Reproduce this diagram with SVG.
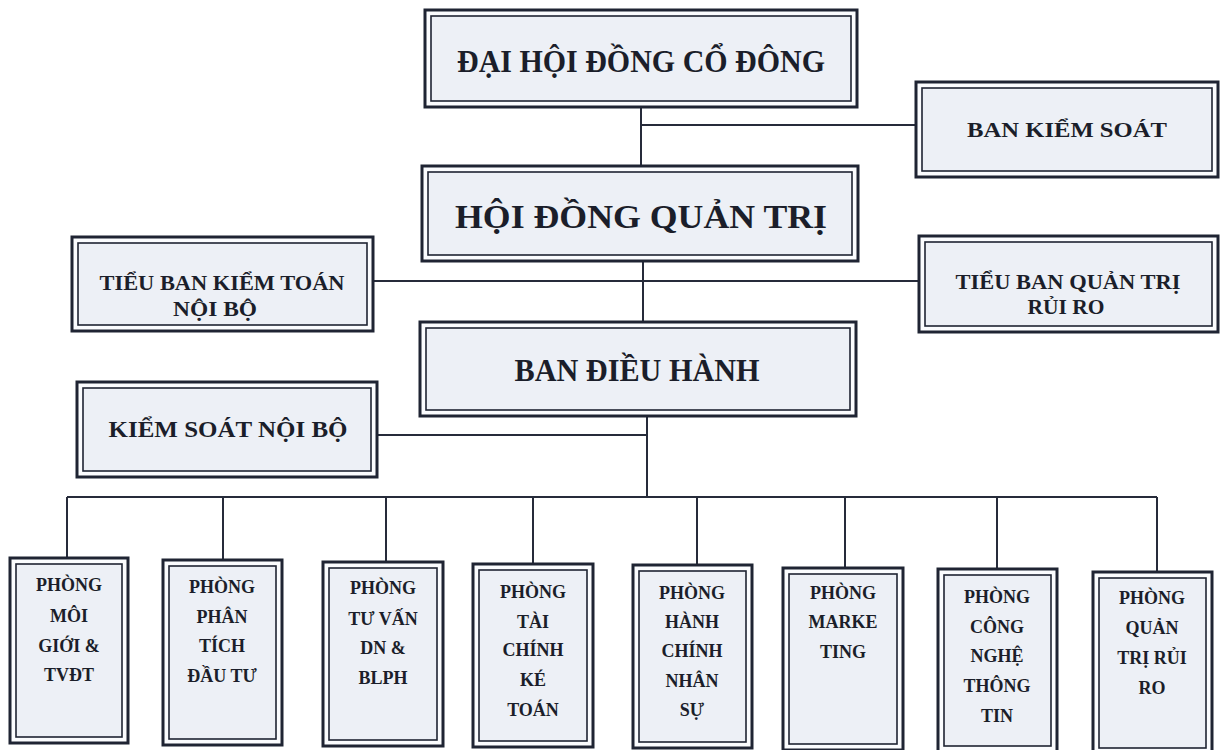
<svg xmlns="http://www.w3.org/2000/svg" width="1220" height="750" viewBox="0 0 1220 750">
<style>
.o{fill:#fbfcfe;stroke:#1f2433;stroke-width:3}
.i{fill:#edf0f6;stroke:#1f2433;stroke-width:1.6}
.t{font-family:"Liberation Serif","Times New Roman",serif;font-weight:bold;fill:#1b1e2a;text-anchor:middle}
.big{font-size:31px}
.mid{font-size:22px}
.sm{font-size:18px}
.c{stroke:#262b3a;stroke-width:2;fill:none}
</style>
<rect width="1220" height="750" fill="#ffffff"/>
<g id="connectors">
<path class="c" d="M641 107V166M641 125H916M643 261V322M373 281H919M647 416V497M377 435H647M67 497H1157M67 497V558M223 497V560M386 497V562M533 497V564M697 497V565M845 497V568M997 497V569M1157 497V572"/>
</g>
<g id="dhcd"><rect class="o" x="425" y="10" width="432" height="97"/><rect class="i" x="431" y="16" width="420" height="85"/><text class="t big" x="641" y="72" textLength="368" lengthAdjust="spacingAndGlyphs">ĐẠI HỘI ĐỒNG CỔ ĐÔNG</text></g>
<g id="bks"><rect class="o" x="916" y="82" width="302" height="95"/><rect class="i" x="922" y="88" width="290" height="83"/><text class="t mid" x="1067" y="137" textLength="200" lengthAdjust="spacingAndGlyphs">BAN KIỂM SOÁT</text></g>
<g id="hdqt"><rect class="o" x="422" y="166" width="436" height="95"/><rect class="i" x="428" y="172" width="424" height="83"/><text class="t" x="641" y="228" font-size="34" textLength="372" lengthAdjust="spacingAndGlyphs">HỘI ĐỒNG QUẢN TRỊ</text></g>
<g id="tbktnb"><rect class="o" x="72" y="237" width="301" height="94"/><rect class="i" x="78" y="243" width="289" height="82"/><text class="t mid" x="222" y="290" textLength="245" lengthAdjust="spacingAndGlyphs">TIỂU BAN KIỂM TOÁN</text><text class="t mid" x="215" y="316" textLength="84" lengthAdjust="spacingAndGlyphs">NỘI BỘ</text></g>
<g id="tbqtrr"><rect class="o" x="919" y="236" width="299" height="96"/><rect class="i" x="925" y="242" width="287" height="84"/><text class="t mid" x="1068" y="289" textLength="225" lengthAdjust="spacingAndGlyphs">TIỂU BAN QUẢN TRỊ</text><text class="t mid" x="1066" y="314" textLength="77" lengthAdjust="spacingAndGlyphs">RỦI RO</text></g>
<g id="bdh"><rect class="o" x="420" y="322" width="436" height="94"/><rect class="i" x="426" y="328" width="424" height="82"/><text class="t big" x="637" y="381" textLength="245" lengthAdjust="spacingAndGlyphs">BAN ĐIỀU HÀNH</text></g>
<g id="ksnb"><rect class="o" x="77" y="382" width="300" height="95"/><rect class="i" x="83" y="388" width="288" height="83"/><text class="t" x="228" y="437" font-size="24" textLength="239" lengthAdjust="spacingAndGlyphs">KIỂM SOÁT NỘI BỘ</text></g>
<g id="p1"><rect class="o" x="10" y="558" width="118" height="185"/><rect class="i" x="16" y="564" width="106" height="173"/><text class="t sm"><tspan x="69" y="591">PHÒNG</tspan><tspan x="69" y="622">MÔI</tspan><tspan x="69" y="652">GIỚI &amp;</tspan><tspan x="69" y="681">TVĐT</tspan></text></g>
<g id="p2"><rect class="o" x="163" y="560" width="119" height="185"/><rect class="i" x="169" y="566" width="107" height="173"/><text class="t sm"><tspan x="222" y="593">PHÒNG</tspan><tspan x="222" y="623">PHÂN</tspan><tspan x="222" y="652">TÍCH</tspan><tspan x="222" y="682">ĐẦU TƯ</tspan></text></g>
<g id="p3"><rect class="o" x="323" y="562" width="120" height="184"/><rect class="i" x="329" y="568" width="108" height="172"/><text class="t sm"><tspan x="383" y="594">PHÒNG</tspan><tspan x="383" y="625">TƯ VẤN</tspan><tspan x="383" y="654">DN &amp;</tspan><tspan x="383" y="684">BLPH</tspan></text></g>
<g id="p4"><rect class="o" x="473" y="564" width="120" height="183"/><rect class="i" x="479" y="570" width="108" height="171"/><text class="t sm"><tspan x="533" y="598">PHÒNG</tspan><tspan x="533" y="628">TÀI</tspan><tspan x="533" y="656">CHÍNH</tspan><tspan x="533" y="686">KÉ</tspan><tspan x="533" y="716">TOÁN</tspan></text></g>
<g id="p5"><rect class="o" x="633" y="565" width="119" height="183"/><rect class="i" x="639" y="571" width="107" height="171"/><text class="t sm"><tspan x="692" y="599">PHÒNG</tspan><tspan x="692" y="628">HÀNH</tspan><tspan x="692" y="657">CHÍNH</tspan><tspan x="692" y="687">NHÂN</tspan><tspan x="692" y="716">SỰ</tspan></text></g>
<g id="p6"><rect class="o" x="783" y="568" width="120" height="182"/><rect class="i" x="789" y="574" width="108" height="170"/><text class="t sm"><tspan x="843" y="599">PHÒNG</tspan><tspan x="843" y="628">MARKE</tspan><tspan x="843" y="658">TING</tspan></text></g>
<g id="p7"><rect class="o" x="938" y="569" width="119" height="183"/><rect class="i" x="944" y="575" width="107" height="171"/><text class="t sm"><tspan x="997" y="603">PHÒNG</tspan><tspan x="997" y="633">CÔNG</tspan><tspan x="997" y="662">NGHỆ</tspan><tspan x="997" y="692">THÔNG</tspan><tspan x="997" y="722">TIN</tspan></text></g>
<g id="p8"><rect class="o" x="1093" y="572" width="119" height="182"/><rect class="i" x="1099" y="578" width="107" height="170"/><text class="t sm"><tspan x="1152" y="604">PHÒNG</tspan><tspan x="1152" y="634">QUẢN</tspan><tspan x="1152" y="664">TRỊ RỦI</tspan><tspan x="1152" y="694">RO</tspan></text></g>
</svg>
